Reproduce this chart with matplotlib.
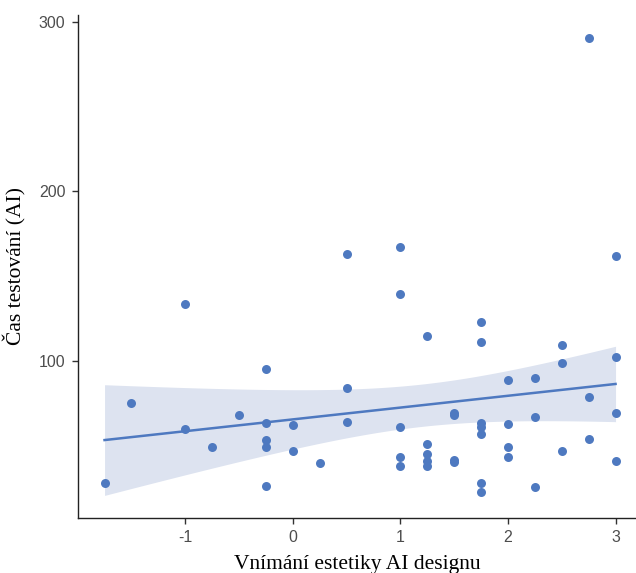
import numpy as np
import matplotlib
matplotlib.use("Agg")
import matplotlib.pyplot as plt

x_vals = [-1.75, -1.5, -1, -1, -0.75, -0.5, -0.25, -0.25, -0.25, -0.25, -0.25,
          0, 0, 0.25, 0.5, 0.5, 0.5,
          1, 1, 1, 1, 1,
          1.25, 1.25, 1.25, 1.25, 1.25,
          1.5, 1.5, 1.5, 1.5,
          1.75, 1.75, 1.75, 1.75, 1.75, 1.75, 1.75,
          2, 2, 2, 2,
          2.25, 2.25, 2.25,
          2.5, 2.5, 2.5,
          2.75, 2.75, 2.75,
          3, 3, 3, 3]
y_vals = [27.8, 74.6, 133.3, 59.3, 48.9, 67.8, 94.8, 62.9, 52.8, 48.7, 25.6,
          62.1, 46.3, 39.6, 162.9, 83.6, 63.5,
          167.2, 139.2, 60.9, 43.0, 37.6,
          114.6, 50.5, 44.7, 40.6, 37.6,
          69.0, 67.6, 41.0, 40.0,
          122.5, 110.8, 63.1, 60.7, 56.6, 27.4, 22.3,
          88.5, 62.7, 48.7, 43.0,
          89.7, 66.5, 25.4,
          109.1, 98.8, 46.3,
          78.5, 53.4, 290.7,
          161.9, 101.8, 69.0, 40.6]

x_ticks = [-1, 0, 1, 2, 3]
y_ticks = [100, 200, 300]
x_label = "Vnímání estetiky AI designu"
y_label = "Čas testování (AI)"

x = np.array(x_vals, dtype=float)
y = np.array(y_vals, dtype=float)

# OLS fit with 95% confidence band
n = len(x)
X = np.column_stack([np.ones(n), x])
beta, *_ = np.linalg.lstsq(X, y, rcond=None)
resid = y - X @ beta
s2 = resid @ resid / (n - 2)
XtX_inv = np.linalg.inv(X.T @ X)
xg = np.linspace(x.min(), x.max(), 100)
Xg = np.column_stack([np.ones_like(xg), xg])
yg = Xg @ beta
se = np.sqrt(s2 * np.einsum("ij,jk,ik->i", Xg, XtX_inv, Xg))
tcrit = 2.006  # t(0.975, df=53)
lo, hi = yg - tcrit * se, yg + tcrit * se

col = "#4E79C0"
fig = plt.figure(figsize=(6.36, 5.73), dpi=100)
ax = fig.add_axes([0.1226, 0.096, 0.8774, 0.878])

ax.fill_between(xg, lo, hi, color="#DDE3F0", linewidth=0, zorder=1)
ax.scatter(x, y, s=42, color=col, linewidths=0, zorder=2)
ax.plot(xg, yg, color=col, linewidth=1.8, zorder=3)

ax.set_xlim(-1.997, 3.19)
ax.set_ylim(6.9, 304.3)
ax.set_xticks(x_ticks)
ax.set_xticklabels([str(t) for t in x_ticks])
ax.set_yticks(y_ticks)
ax.set_yticklabels([str(t) for t in y_ticks])

for side in ["top", "right"]:
    ax.spines[side].set_visible(False)
for side in ["left", "bottom"]:
    ax.spines[side].set_linewidth(1.0)
    ax.spines[side].set_color("#222222")

ax.tick_params(axis="both", length=4, width=1.0, color="#333333",
               labelcolor="#4D4D4D", labelsize=11.5, pad=5)
for lab in ax.get_xticklabels() + ax.get_yticklabels():
    lab.set_family("Liberation Sans")

ax.set_xlabel(x_label, family="Liberation Serif", fontsize=15.5, color="black", labelpad=7)
ax.set_ylabel(y_label, family="Liberation Serif", fontsize=15.5, color="black", labelpad=9)

fig.savefig("out.png", dpi=100)
